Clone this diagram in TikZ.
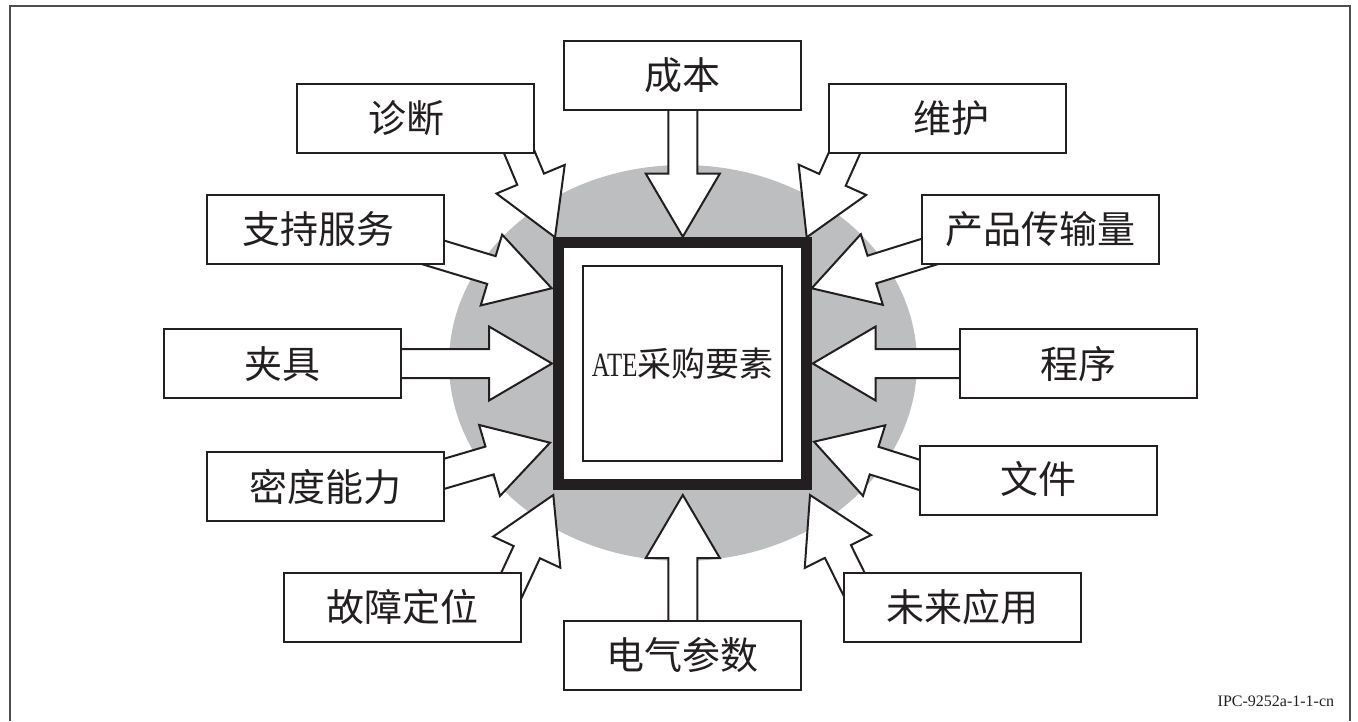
\documentclass[tikz,border=0pt]{standalone}
\usepackage{fontspec}
\usepackage{graphicx}
\setmainfont{Liberation Serif}
\newfontfamily\cjk{Noto Sans CJK SC}
\usetikzlibrary{calc}
\definecolor{ink}{HTML}{231F20}
\definecolor{disc}{HTML}{BCBEC0}
\definecolor{framec}{HTML}{4D4D4D}
\newcommand{\blockarr}[2]{%
  \coordinate (h#1) at ($(#2)!63pt!(#1)$);
  \draw[arrowbody] ($(#1)!14.5pt!90:(#2)$) -- ($(h#1)!14.5pt!90:(#2)$) -- ($(h#1)!37pt!90:(#2)$) -- (#2) -- ($(h#1)!37pt!-90:(#2)$) -- ($(h#1)!14.5pt!-90:(#2)$) -- ($(#1)!14.5pt!-90:(#2)$) -- cycle;}
\begin{document}
\begin{tikzpicture}[x=1pt,y=-1pt,
  arrowbody/.style={draw=ink, fill=white, line width=2pt, line join=miter},
  factor/.style={draw=ink, fill=white, line width=2.2pt, minimum width=237pt, minimum height=69pt, inner sep=0pt, font=\cjk\fontsize{38pt}{40pt}\selectfont, text=ink},
  core/.style={draw=ink, fill=white, line width=10.7pt, minimum width=247.7pt, minimum height=242pt, inner sep=0pt},
  innerbox/.style={draw=ink, line width=2pt, minimum width=198.5pt, minimum height=194.5pt, inner sep=0pt, text=ink}
  ]
\useasboundingbox (0,0) rectangle (1358,721);
\draw[framec, line width=1.5pt] (10,721) -- (10,6) -- (1350,6) -- (1350,721);
\fill[disc] (683,363) ellipse [x radius=234pt, y radius=198pt];

\coordinate (s1) at (504.7,117.4);  \coordinate (t1) at (555,237.3);
\coordinate (s2) at (408.1,244.8);  \coordinate (t2) at (551.7,288.3);
\coordinate (s3) at (380,363.5);    \coordinate (t3) at (552,363.5);
\coordinate (s4) at (406.1,485);    \coordinate (t4) at (550,442.7);
\coordinate (s5) at (498.6,612.9);  \coordinate (t5) at (553.3,495);
\coordinate (s6) at (859.9,118.6);  \coordinate (t6) at (806.7,237.3);
\coordinate (s7) at (954.9,243.6);  \coordinate (t7) at (811.7,288.3);
\coordinate (s8) at (990,363.5);    \coordinate (t8) at (812.7,363.5);
\coordinate (s9) at (957.1,486.7);  \coordinate (t9) at (814,441.7);
\coordinate (s10) at (867.6,611.5); \coordinate (t10) at (810,495);
\coordinate (s11) at (682.8,90);    \coordinate (t11) at (682.8,236.7);
\coordinate (s12) at (682.8,640);   \coordinate (t12) at (682.8,495);

\blockarr{s1}{t1}
\blockarr{s2}{t2}
\blockarr{s3}{t3}
\blockarr{s4}{t4}
\blockarr{s5}{t5}
\blockarr{s6}{t6}
\blockarr{s7}{t7}
\blockarr{s8}{t8}
\blockarr{s9}{t9}
\blockarr{s10}{t10}
\blockarr{s11}{t11}
\blockarr{s12}{t12}

\node[core] (core) at (682.5,363.7) {};
\node[innerbox] (inner) at (682.7,363.7) {\raisebox{-4pt}{\fontsize{34pt}{36pt}\selectfont\scalebox{0.73}[1]{ATE}{\cjk 采购要素}}};

\node[factor] (f1) at (415.5,118.2) {\hspace*{-18pt}诊断};
\node[factor] (f2) at (325.3,229.2) {\hspace*{-14pt}支持服务};
\node[factor] (f3) at (282.5,363.7) {夹具};
\node[factor] (f4) at (325.3,486.7) {密度能力};
\node[factor] (f5) at (402.3,607.2) {故障定位};
\node[factor] (f6) at (947.8,118.2) {\hspace*{8pt}维护};
\node[factor] (f7) at (1040.8,229.5) {产品传输量};
\node[factor] (f8) at (1078.3,363.7) {程序};
\node[factor] (f9) at (1038.3,480.3) {\raisebox{5pt}{文件}};
\node[factor] (f10) at (962.5,607.2) {未来应用};
\node[factor] (f11) at (682.5,75.3) {成本};
\node[factor] (f12) at (682.5,655.5) {电气参数};

\node[anchor=east, font=\fontsize{16pt}{18pt}\selectfont, inner sep=0pt, text=ink] (code) at (1334.3,701.7) {IPC-9252a-1-1-cn};
\end{tikzpicture}
\end{document}
